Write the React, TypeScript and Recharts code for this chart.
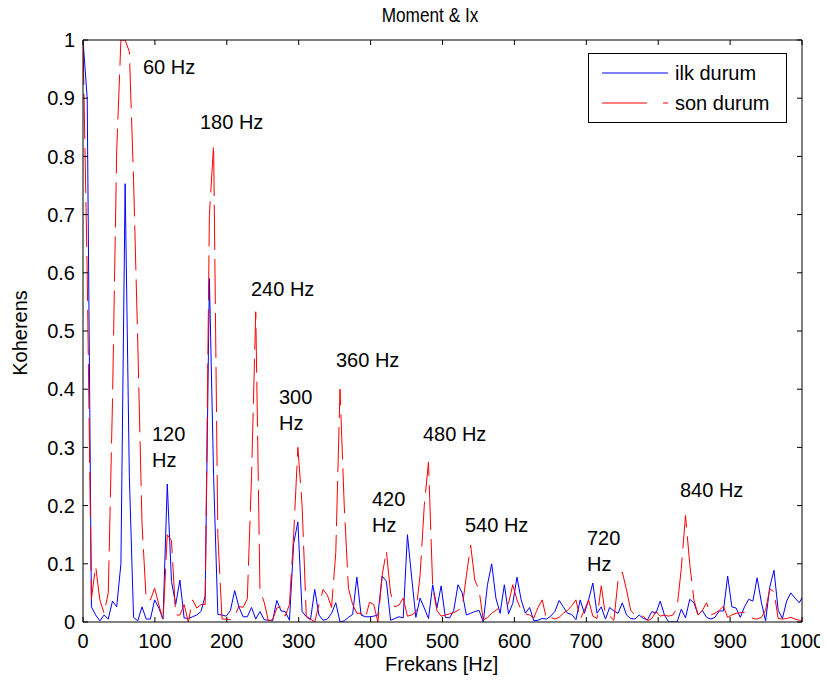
import React from 'react';
import { LineChart, Line, XAxis, YAxis } from 'recharts';

// frequency grid of the coherence estimate (Hz per bin)
const BIN_HZ = 5.86;

const ilkDurum = [
  1.0, 0.9, 0.026, 0.012, 0.002, 0.012, 0.005, 0.036, 0.026, 0.1,
  0.753, 0.25, 0.008, 0.002, 0.026, 0.005, 0.005, 0.038, 0.024, 0.005,
  0.237, 0.07, 0.03, 0.072, 0.007, 0.006, 0.009, 0.012, 0.018, 0.045,
  0.59, 0.25, 0.013, 0.012, 0.01, 0.02, 0.054, 0.026, 0.009, 0.009,
  0.025, 0.005, 0.018, 0.004, 0.003, 0.002, 0.037, 0.019, 0.018, 0.003,
  0.135, 0.172, 0.018, 0.009, 0.004, 0.056, 0.012, 0.003, 0.005, 0.015,
  0.033, 0.0, 0.002, 0.008, 0.013, 0.077, 0.012, 0.009, 0.009, 0.01,
  0.012, 0.079, 0.07, 0.003, 0.006, 0.009, 0.007, 0.15, 0.077, 0.008,
  0.041, 0.024, 0.006, 0.064, 0.024, 0.062, 0.008, 0.007, 0.02, 0.064,
  0.05, 0.012, 0.015, 0.018, 0.02, 0.0, 0.064, 0.1, 0.041, 0.015,
  0.064, 0.014, 0.032, 0.077, 0.038, 0.015, 0.025, 0.002, 0.003, 0.006,
  0.005, 0.01, 0.018, 0.037, 0.026, 0.015, 0.013, 0.004, 0.038, 0.015,
  0.038, 0.067, 0.015, 0.026, 0.005, 0.025, 0.019, 0.015, 0.033, 0.012,
  0.006, 0.005, 0.012, 0.006, 0.004, 0.018, 0.015, 0.036, 0.012, 0.0,
  0.0, 0.0, 0.022, 0.007, 0.039, 0.033, 0.012, 0.02, 0.008, 0.005,
  0.008, 0.019, 0.019, 0.079, 0.026, 0.024, 0.008, 0.026, 0.039, 0.036,
  0.076, 0.034, 0.002, 0.06, 0.089, 0.02, 0.006, 0.036, 0.05, 0.041,
  0.033, 0.046,
];

const sonDurum = [
  1.0, 0.6, 0.04, 0.096, 0.038, 0.015, 0.05, 0.38, 0.81, 1.0,
  1.0, 0.98, 0.76, 0.48, 0.17, 0.038, 0.038, 0.058, 0.03, 0.002,
  0.15, 0.14, 0.012, 0.012, 0.03, 0.0, 0.038, 0.024, 0.03, 0.03,
  0.7, 0.82, 0.15, 0.005, 0.005, 0.004, 0.01, 0.027, 0.025, 0.04,
  0.25, 0.533, 0.055, 0.034, 0.002, 0.004, 0.024, 0.026, 0.01, 0.03,
  0.15, 0.3, 0.2, 0.01, 0.005, 0.0, 0.03, 0.056, 0.046, 0.025,
  0.12, 0.4, 0.2, 0.058, 0.03, 0.015, 0.015, 0.006, 0.034, 0.03,
  0.0, 0.08, 0.122, 0.05, 0.026, 0.029, 0.041, 0.01, 0.012, 0.017,
  0.08, 0.2, 0.275, 0.06, 0.02, 0.01, 0.012, 0.014, 0.016, 0.02,
  0.025, 0.08, 0.132, 0.072, 0.055, 0.003, 0.008, 0.015, 0.02, 0.025,
  0.03, 0.032, 0.064, 0.038, 0.02, 0.014, 0.012, 0.007, 0.025, 0.038,
  0.005, 0.008, 0.005, 0.008, 0.015, 0.02, 0.028, 0.038, 0.005, 0.02,
  0.038, 0.01, 0.006, 0.062, 0.012, 0.01, 0.003, 0.072, 0.086, 0.055,
  0.02, 0.012, 0.01, 0.01, 0.002, 0.006, 0.018, 0.01, 0.012, 0.01,
  0.012, 0.024, 0.092, 0.183, 0.1, 0.038, 0.012, 0.02, 0.033, 0.012,
  0.015, 0.02, 0.027, 0.008, 0.012, 0.015, 0.016, 0.017, 0.01, 0.006,
  0.005, 0.008, 0.02, 0.057, 0.052, 0.006, 0.005, 0.006, 0.008, 0.005,
  0.003, 0.0,
];

const xTicks = [0, 100, 200, 300, 400, 500, 600, 700, 800, 900, 1000];
const yTicks = [0, 0.1, 0.2, 0.3, 0.4, 0.5, 0.6, 0.7, 0.8, 0.9, 1];

// peak annotations: text lines and page position (left, vertical centre of first line)
const peakNotes = [
  { lines: ['60 Hz'], left: 144, cy: 67 },
  { lines: ['180 Hz'], left: 201, cy: 122 },
  { lines: ['240 Hz'], left: 252, cy: 289 },
  { lines: ['120', 'Hz'], left: 153, cy: 434 },
  { lines: ['300', 'Hz'], left: 280, cy: 397 },
  { lines: ['360 Hz'], left: 337, cy: 360 },
  { lines: ['420', 'Hz'], left: 373, cy: 499 },
  { lines: ['480 Hz'], left: 424, cy: 434 },
  { lines: ['540 Hz'], left: 466, cy: 525 },
  { lines: ['720', 'Hz'], left: 588, cy: 538 },
  { lines: ['840 Hz'], left: 681, cy: 490 },
];

const data = ilkDurum.map((v, i) => ({
  f: i * BIN_HZ,
  ilk: v,
  son: sonDurum[i],
}));

const FONT = '"Liberation Sans", Arial, Helvetica, sans-serif';
const tickStyle = { fontSize: 20, fill: '#000', fontFamily: FONT };
const blank = () => <g />;

export default function App() {
  return (
    <div style={{ position: 'relative', width: 820, height: 674, fontFamily: FONT, color: '#000' }}>
      <LineChart width={820} height={674} data={data} margin={{ top: 0, right: 0, bottom: 0, left: 0 }}>
        <XAxis
          xAxisId="b"
          dataKey="f"
          type="number"
          domain={[0, 1000]}
          allowDataOverflow
          ticks={xTicks}
          interval={0}
          height={60}
          tickSize={-5}
          tickMargin={17}
          stroke="#000"
          tick={tickStyle}
        />
        <XAxis
          xAxisId="t"
          orientation="top"
          dataKey="f"
          type="number"
          domain={[0, 1000]}
          allowDataOverflow
          ticks={xTicks}
          interval={0}
          height={32}
          tickSize={-5}
          stroke="#000"
          tick={blank}
        />
        <YAxis
          yAxisId="l"
          type="number"
          domain={[0, 1]}
          allowDataOverflow
          ticks={yTicks}
          interval={0}
          width={75}
          tickSize={-5}
          tickMargin={13}
          stroke="#000"
          tick={tickStyle}
        />
        <YAxis
          yAxisId="r"
          orientation="right"
          type="number"
          domain={[0, 1]}
          allowDataOverflow
          ticks={yTicks}
          interval={0}
          width={26}
          tickSize={-5}
          stroke="#000"
          tick={blank}
        />
        <Line
          xAxisId="b"
          yAxisId="l"
          type="linear"
          dataKey="ilk"
          stroke="#0000ff"
          strokeWidth={1}
          dot={false}
          isAnimationActive={false}
        />
        <Line
          xAxisId="t"
          yAxisId="r"
          type="linear"
          dataKey="son"
          stroke="#ff0000"
          strokeWidth={1}
          strokeDasharray="45 9"
          dot={false}
          isAnimationActive={false}
        />
      </LineChart>

      <div
        style={{
          position: 'absolute',
          left: 352,
          top: -4,
          width: 140,
          textAlign: 'center',
          whiteSpace: 'nowrap',
          fontSize: 20,
          lineHeight: '22px',
          transform: 'scaleX(0.86)',
        }}
      >
        Moment &amp; Ix
      </div>
      <div style={{ position: 'absolute', left: 377, top: 645, fontSize: 20, lineHeight: '22px', whiteSpace: 'nowrap' }}>
        Frekans [Hz]
      </div>
      <div
        style={{
          position: 'absolute',
          left: 12 - 50,
          top: 325 - 11,
          width: 100,
          textAlign: 'center',
          whiteSpace: 'nowrap',
          fontSize: 20,
          lineHeight: '22px',
          transform: 'rotate(-90deg)',
        }}
      >
        Koherens
      </div>

      {peakNotes.map((n) => (
        <div
          key={n.lines.join(' ')}
          style={{ position: 'absolute', left: n.left - 9, top: n.cy - 21, fontSize: 20, lineHeight: '26px', whiteSpace: 'pre' }}
        >
          {n.lines.join('\n')}
        </div>
      ))}

      <div
        style={{
          position: 'absolute',
          left: 580,
          top: 45,
          width: 197,
          height: 68,
          border: '1px solid #000',
          background: '#fff',
          fontSize: 20,
        }}
      >
        <svg width={80} height={68} style={{ position: 'absolute', left: 0, top: 0 }}>
          <line x1={13} x2={79} y1={19} y2={19} stroke="#0000ff" strokeWidth={1} />
          <line x1={13} x2={79} y1={49} y2={49} stroke="#ff0000" strokeWidth={1} strokeDasharray="45 16" />
        </svg>
        <div style={{ position: 'absolute', left: 86, top: 6, lineHeight: '26px', whiteSpace: 'nowrap' }}>ilk durum</div>
        <div style={{ position: 'absolute', left: 86, top: 36, lineHeight: '26px', whiteSpace: 'nowrap' }}>son durum</div>
      </div>
    </div>
  );
}
